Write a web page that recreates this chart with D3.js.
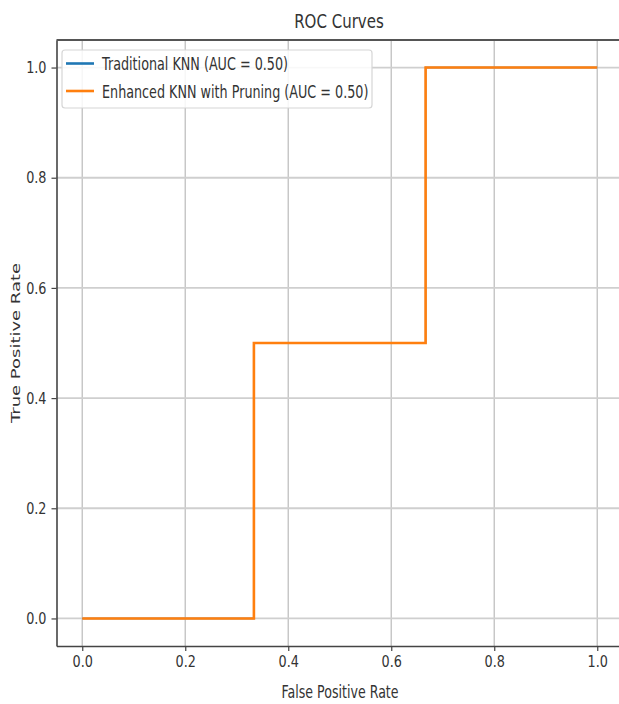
<!DOCTYPE html>
<html><head><meta charset="utf-8">
<script src="https://cdn.jsdelivr.net/npm/d3@7"></script>
<style>body{margin:0;background:#fff}svg{display:block}text{font-family:"DejaVu Sans",sans-serif;fill:#333}</style>
</head><body><svg id="c" width="619" height="704"></svg>
<script>
const title = "ROC Curves";
const xLabel = "False Positive Rate";
const yLabel = "True Positive Rate";
const seriesNames = ["Traditional KNN (AUC = 0.50)", "Enhanced KNN with Pruning (AUC = 0.50)"];
const seriesColors = ["#1f77b4", "#ff7f0e"];
const fprTraditional = [0, 0.3333, 0.3333, 0.6667, 0.6667, 1];
const tprTraditional = [0, 0, 0.5, 0.5, 1, 1];
const fprEnhanced = [0, 0.3333, 0.3333, 0.6667, 0.6667, 1];
const tprEnhanced = [0, 0, 0.5, 0.5, 1, 1];
const xTicks = [0, 0.2, 0.4, 0.6, 0.8, 1.0];
const yTicks = [0, 0.2, 0.4, 0.6, 0.8, 1.0];

function squeeze(sel, f) {
  sel.each(function () {
    const w = this.getComputedTextLength();
    this.setAttribute("textLength", w * f);
    this.setAttribute("lengthAdjust", "spacingAndGlyphs");
  });
}

const svg = d3.select("#c");
const L = 56.5, R = 623, T = 40, B = 646;
const x = d3.scaleLinear().domain([-0.05, 1.05]).range([L, R]);
const y = d3.scaleLinear().domain([-0.05, 1.05]).range([B, T]);

// grid
const g = svg.append("g");
g.selectAll(".gx").data(xTicks).join("line")
  .attr("x1", d => x(d)).attr("x2", d => x(d)).attr("y1", T).attr("y2", B)
  .attr("stroke", "#c4c4c4").attr("stroke-width", 1.4);
g.selectAll(".gy").data(yTicks).join("line")
  .attr("y1", d => y(d)).attr("y2", d => y(d)).attr("x1", L).attr("x2", R)
  .attr("stroke", "#cfcfcf").attr("stroke-width", 1.8);

// axes
const xa = svg.append("g").attr("transform", `translate(0,${B})`)
  .call(d3.axisBottom(x).tickValues(xTicks).tickFormat(d3.format(".1f")).tickSize(5).tickSizeOuter(0).tickPadding(5));
const ya = svg.append("g").attr("transform", `translate(${L},0)`)
  .call(d3.axisLeft(y).tickValues(yTicks).tickFormat(d3.format(".1f")).tickSize(5).tickSizeOuter(0).tickPadding(5));
[xa, ya].forEach(a => {
  a.select(".domain").attr("stroke", "#444").attr("stroke-width", 1.6);
  a.selectAll(".tick line").attr("stroke", "#444").attr("stroke-width", 1.2);
  a.selectAll("text").attr("font-size", 16).attr("fill", "#333")
    .attr("font-family", '"DejaVu Sans",sans-serif');
});
xa.selectAll("text").attr("dy", "0.71em");
squeeze(xa.selectAll("text"), 0.8);
squeeze(ya.selectAll("text"), 0.8);
// top spine
svg.append("line").attr("x1", L).attr("x2", R).attr("y1", T).attr("y2", T)
  .attr("stroke", "#555").attr("stroke-width", 2);

// lines
const line = d3.line().curve(d3.curveLinear);
const series = [
  fprTraditional.map((v, i) => [x(v), y(tprTraditional[i])]),
  fprEnhanced.map((v, i) => [x(v), y(tprEnhanced[i])])
];
series.forEach((pts, i) => {
  svg.append("path").attr("d", line(pts)).attr("fill", "none")
    .attr("stroke", seriesColors[i]).attr("stroke-width", i === 0 ? 1.4 : 2.6);
});

// title and labels
svg.append("text").attr("x", 339).attr("y", 27.5).attr("text-anchor", "middle")
  .attr("font-size", 19).text(title).call(squeeze, 0.79);
svg.append("text").attr("x", 340).attr("y", 698).attr("text-anchor", "middle")
  .attr("font-size", 18).text(xLabel).call(squeeze, 0.7);
svg.append("text").attr("transform", `translate(19.5,343) scale(0.7,1) rotate(-90)`)
  .attr("text-anchor", "middle").attr("font-size", 18).text(yLabel);

// legend
const lg = svg.append("g");
lg.append("rect").attr("x", 62).attr("y", 50).attr("width", 310).attr("height", 58)
  .attr("rx", 3).attr("fill", "#fff").attr("fill-opacity", 0.85)
  .attr("stroke", "#d6d6d6").attr("stroke-width", 1.2);
seriesNames.forEach((n, i) => {
  const yy = 63.5 + i * 27.5;
  lg.append("line").attr("x1", 66).attr("x2", 94).attr("y1", yy).attr("y2", yy)
    .attr("stroke", seriesColors[i]).attr("stroke-width", 2.6);
  lg.append("text").attr("x", 102).attr("y", yy + 6.5).attr("font-size", 17).text(n).call(squeeze, 0.75);
});
</script></body></html>
